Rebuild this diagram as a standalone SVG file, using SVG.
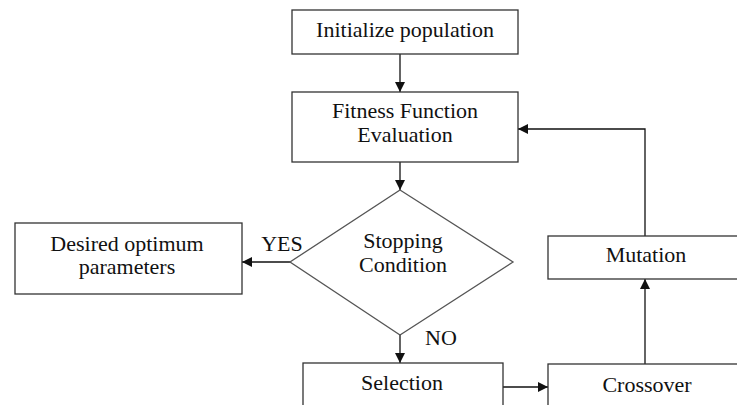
<svg xmlns="http://www.w3.org/2000/svg" width="737" height="405" viewBox="0 0 737 405">
<defs>
<style>
.box{fill:#fff;stroke:#333;stroke-width:1.3}
.dia{fill:#fff;stroke:#555;stroke-width:1.3}
.t{font-family:'Liberation Serif','DejaVu Serif',serif;font-size:22px;fill:#111;text-anchor:middle}
.c{fill:none;stroke:#111;stroke-width:1.3}
</style>
<marker id="ah" viewBox="0 0 10 10" refX="10" refY="5" markerWidth="10" markerHeight="10" markerUnits="userSpaceOnUse" orient="auto">
<path d="M0,0 L10,5 L0,10 z" fill="#111"/>
</marker>
</defs>
<g id="connectors">
<path class="c" d="M400,54 V92" marker-end="url(#ah)"/>
<path class="c" d="M400,162 V190" marker-end="url(#ah)"/>
<path class="c" d="M290,262 H242" marker-end="url(#ah)"/>
<path class="c" d="M400,335 V363" marker-end="url(#ah)"/>
<path class="c" d="M503,387 H548" marker-end="url(#ah)"/>
<path class="c" d="M645,364 V279" marker-end="url(#ah)"/>
<path class="c" d="M645,236 V129 H518" marker-end="url(#ah)"/>
<text class="t" x="282" y="251">YES</text>
<text class="t" x="441" y="345">NO</text>
</g>
<g id="init">
<rect class="box" x="292" y="10" width="226" height="44"/>
<text class="t" x="405" y="37">Initialize population</text>
</g>
<g id="fitness">
<rect class="box" x="292" y="92" width="226" height="70"/>
<text class="t" x="405" y="118">Fitness Function</text>
<text class="t" x="405" y="142">Evaluation</text>
</g>
<g id="stopping">
<polygon class="dia" points="400,190 513,262 400,335 290,262"/>
<text class="t" x="403" y="248">Stopping</text>
<text class="t" x="403" y="272">Condition</text>
</g>
<g id="desired">
<rect class="box" x="15" y="223" width="227" height="71"/>
<text class="t" x="127" y="251">Desired optimum</text>
<text class="t" x="127" y="274">parameters</text>
</g>
<g id="selection">
<rect class="box" x="303" y="363" width="200" height="50"/>
<text class="t" x="402" y="390">Selection</text>
</g>
<g id="mutation">
<rect class="box" x="548" y="236" width="195" height="43"/>
<text class="t" x="646" y="262">Mutation</text>
</g>
<g id="crossover">
<rect class="box" x="548" y="364" width="195" height="50"/>
<text class="t" x="647" y="392">Crossover</text>
</g>
</svg>
